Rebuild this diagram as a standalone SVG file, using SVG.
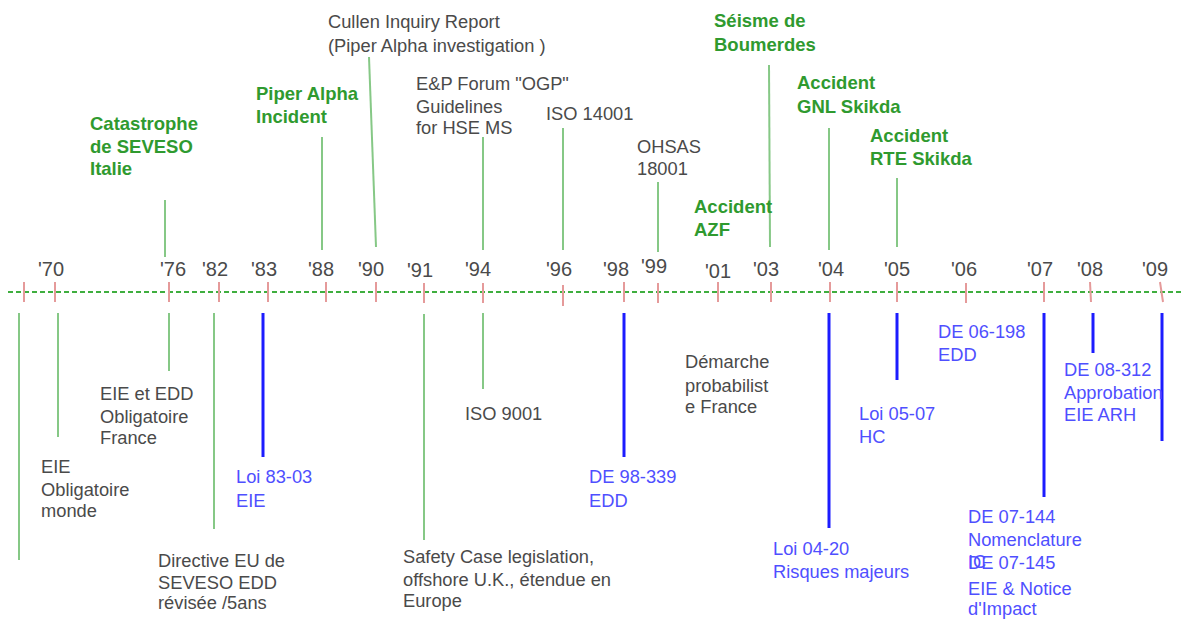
<svg xmlns="http://www.w3.org/2000/svg" width="1184" height="621" viewBox="0 0 1184 621">
  <style>
    text { font-family: "Liberation Sans", Arial, sans-serif; }
    .g { font-size: 18.3px; fill: #4a4a4a; }
    .b { font-size: 18.3px; fill: #4f4fff; }
    .e { font-size: 18.5px; font-weight: bold; fill: #2f9a2f; }
    .yr { font-size: 20px; fill: #4a4a4a; }
    .axis { stroke: #3fae3f; stroke-width: 2; stroke-dasharray: 5 3; fill: none; }
    .tick { stroke: #e59a9a; stroke-width: 2; }
    .lg { stroke: #86c886; stroke-width: 2; fill: none; }
    .lb { stroke: #1c1cff; stroke-width: 3; fill: none; }
  </style>
  <rect width="1184" height="621" fill="#ffffff"/>

  <!-- time axis with year ticks -->
  <g id="axis">
    <line class="axis" x1="8" y1="292" x2="1184" y2="292"/>
    <line class="tick" x1="24" y1="282" x2="24" y2="302"/>
    <line class="tick" x1="55" y1="282" x2="55" y2="302"/>
    <line class="tick" x1="169" y1="282" x2="169" y2="302"/>
    <line class="tick" x1="219" y1="282" x2="219" y2="302"/>
    <line class="tick" x1="268" y1="282" x2="268" y2="302"/>
    <line class="tick" x1="326" y1="282" x2="326" y2="302"/>
    <line class="tick" x1="376" y1="282" x2="376" y2="302"/>
    <line class="tick" x1="424" y1="283" x2="424" y2="303"/>
    <line class="tick" x1="483" y1="283" x2="483" y2="303"/>
    <line class="tick" x1="563" y1="285" x2="563" y2="306"/>
    <line class="tick" x1="624" y1="282" x2="624" y2="302"/>
    <line class="tick" x1="658" y1="283" x2="658" y2="303"/>
    <line class="tick" x1="718" y1="282" x2="718" y2="302"/>
    <line class="tick" x1="771" y1="282" x2="771" y2="302"/>
    <line class="tick" x1="830" y1="282" x2="830" y2="302"/>
    <line class="tick" x1="897" y1="282" x2="897" y2="302"/>
    <line class="tick" x1="966" y1="283" x2="966" y2="303"/>
    <line class="tick" x1="1044" y1="282" x2="1044" y2="302"/>
    <line class="tick" x1="1090" y1="282" x2="1091" y2="302"/>
    <line class="tick" x1="1160" y1="282" x2="1163" y2="302"/>
  </g>

  <g id="years">
    <text class="yr" x="38" y="276">'70</text>
    <text class="yr" x="160" y="276">'76</text>
    <text class="yr" x="202" y="276">'82</text>
    <text class="yr" x="251" y="276">'83</text>
    <text class="yr" x="308" y="276">'88</text>
    <text class="yr" x="358" y="276">'90</text>
    <text class="yr" x="407" y="277">'91</text>
    <text class="yr" x="465" y="276">'94</text>
    <text class="yr" x="546" y="276">'96</text>
    <text class="yr" x="603" y="276">'98</text>
    <text class="yr" x="641" y="273">'99</text>
    <text class="yr" x="705" y="278">'01</text>
    <text class="yr" x="753" y="276">'03</text>
    <text class="yr" x="818" y="276">'04</text>
    <text class="yr" x="884" y="276">'05</text>
    <text class="yr" x="951" y="276">'06</text>
    <text class="yr" x="1027" y="276">'07</text>
    <text class="yr" x="1077" y="276">'08</text>
    <text class="yr" x="1142" y="276">'09</text>
  </g>

  <!-- leader lines from each event label to the axis -->
  <g id="connectors">
    <!-- above the axis -->
    <line class="lg" x1="165" y1="200" x2="165" y2="257"/>
    <line class="lg" x1="322" y1="137" x2="322" y2="250"/>
    <line class="lg" x1="369" y1="57" x2="376" y2="247"/>
    <line class="lg" x1="483" y1="137" x2="483" y2="250"/>
    <line class="lg" x1="563" y1="128" x2="563" y2="250"/>
    <line class="lg" x1="658" y1="182" x2="658" y2="252"/>
    <line class="lg" x1="769" y1="65" x2="770" y2="247"/>
    <line class="lg" x1="829" y1="128" x2="829" y2="250"/>
    <line class="lg" x1="897" y1="178" x2="897" y2="247"/>
    <!-- below the axis -->
    <line class="lg" x1="19" y1="313" x2="19" y2="560"/>
    <line class="lg" x1="58" y1="313" x2="58" y2="437"/>
    <line class="lg" x1="169" y1="313" x2="169" y2="371"/>
    <line class="lg" x1="214" y1="313" x2="214" y2="529"/>
    <line class="lb" x1="263" y1="313" x2="263" y2="457"/>
    <line class="lg" x1="424" y1="314" x2="424" y2="540"/>
    <line class="lg" x1="483" y1="313" x2="483" y2="389"/>
    <line class="lb" x1="624" y1="313" x2="624" y2="457"/>
    <line class="lb" x1="829" y1="313" x2="829" y2="528"/>
    <line class="lb" x1="897" y1="313" x2="897" y2="380"/>
    <line class="lb" x1="1044" y1="313" x2="1044" y2="497"/>
    <line class="lb" x1="1093" y1="313" x2="1093" y2="353" stroke-width="4"/>
    <line class="lb" x1="1162" y1="313" x2="1162" y2="441"/>
  </g>

  <!-- events above the axis -->
  <g id="seveso">
    <text class="e" x="90" y="130">Catastrophe</text>
    <text class="e" x="90" y="153">de SEVESO</text>
    <text class="e" x="90" y="175">Italie</text>
  </g>
  <g id="piper-alpha">
    <text class="e" x="256" y="100">Piper Alpha</text>
    <text class="e" x="256" y="123">Incident</text>
  </g>
  <g id="cullen">
    <text class="g" x="328" y="28">Cullen Inquiry Report</text>
    <text class="g" x="328" y="52">(Piper Alpha investigation )</text>
  </g>
  <g id="ogp">
    <text class="g" x="416" y="90">E&amp;P Forum "OGP"</text>
    <text class="g" x="416" y="113">Guidelines</text>
    <text class="g" x="416" y="134">for HSE MS</text>
  </g>
  <g id="iso14001">
    <text class="g" x="546" y="120">ISO 14001</text>
  </g>
  <g id="ohsas">
    <text class="g" x="637" y="153">OHSAS</text>
    <text class="g" x="637" y="175">18001</text>
  </g>
  <g id="azf">
    <text class="e" x="694" y="213">Accident</text>
    <text class="e" x="694" y="236">AZF</text>
  </g>
  <g id="boumerdes">
    <text class="e" x="714" y="27">Séisme de</text>
    <text class="e" x="714" y="51">Boumerdes</text>
  </g>
  <g id="gnl-skikda">
    <text class="e" x="797" y="89">Accident</text>
    <text class="e" x="797" y="113">GNL Skikda</text>
  </g>
  <g id="rte-skikda">
    <text class="e" x="870" y="142">Accident</text>
    <text class="e" x="870" y="165">RTE Skikda</text>
  </g>

  <!-- events below the axis -->
  <g id="eie-monde">
    <text class="g" x="41" y="473">EIE</text>
    <text class="g" x="41" y="496">Obligatoire</text>
    <text class="g" x="41" y="517">monde</text>
  </g>
  <g id="eie-edd-france">
    <text class="g" x="100" y="400">EIE et EDD</text>
    <text class="g" x="100" y="423">Obligatoire</text>
    <text class="g" x="100" y="444">France</text>
  </g>
  <g id="directive-seveso">
    <text class="g" x="158" y="567">Directive EU de</text>
    <text class="g" x="158" y="589">SEVESO EDD</text>
    <text class="g" x="158" y="609">révisée /5ans</text>
  </g>
  <g id="loi-83-03">
    <text class="b" x="236" y="483">Loi 83-03</text>
    <text class="b" x="236" y="507">EIE</text>
  </g>
  <g id="safety-case">
    <text class="g" x="403" y="563">Safety Case legislation,</text>
    <text class="g" x="403" y="586">offshore U.K., étendue  en</text>
    <text class="g" x="403" y="607">Europe</text>
  </g>
  <g id="iso9001">
    <text class="g" x="465" y="420">ISO 9001</text>
  </g>
  <g id="de-98-339">
    <text class="b" x="589" y="483">DE 98-339</text>
    <text class="b" x="589" y="507">EDD</text>
  </g>
  <g id="demarche">
    <text class="g" x="685" y="368">Démarche</text>
    <text class="g" x="685" y="392">probabilist</text>
    <text class="g" x="685" y="413">e France</text>
  </g>
  <g id="loi-04-20">
    <text class="b" x="773" y="555">Loi 04-20</text>
    <text class="b" x="773" y="578">Risques majeurs</text>
  </g>
  <g id="loi-05-07">
    <text class="b" x="859" y="420">Loi 05-07</text>
    <text class="b" x="859" y="443">HC</text>
  </g>
  <g id="de-06-198">
    <text class="b" x="938" y="338">DE 06-198</text>
    <text class="b" x="938" y="361">EDD</text>
  </g>
  <g id="de-07-144">
    <text class="b" x="968" y="523">DE 07-144</text>
    <text class="b" x="968" y="546">Nomenclature</text>
    <text class="b" x="968" y="568">IC</text>
  </g>
  <g id="de-07-145">
    <text class="b" x="968" y="569">DE 07-145</text>
    <text class="b" x="968" y="595">EIE &amp; Notice</text>
    <text class="b" x="968" y="615">d'Impact</text>
  </g>
  <g id="de-08-312">
    <text class="b" x="1064" y="376">DE 08-312</text>
    <text class="b" x="1064" y="399">Approbation</text>
    <text class="b" x="1064" y="421">EIE ARH</text>
  </g>
</svg>
